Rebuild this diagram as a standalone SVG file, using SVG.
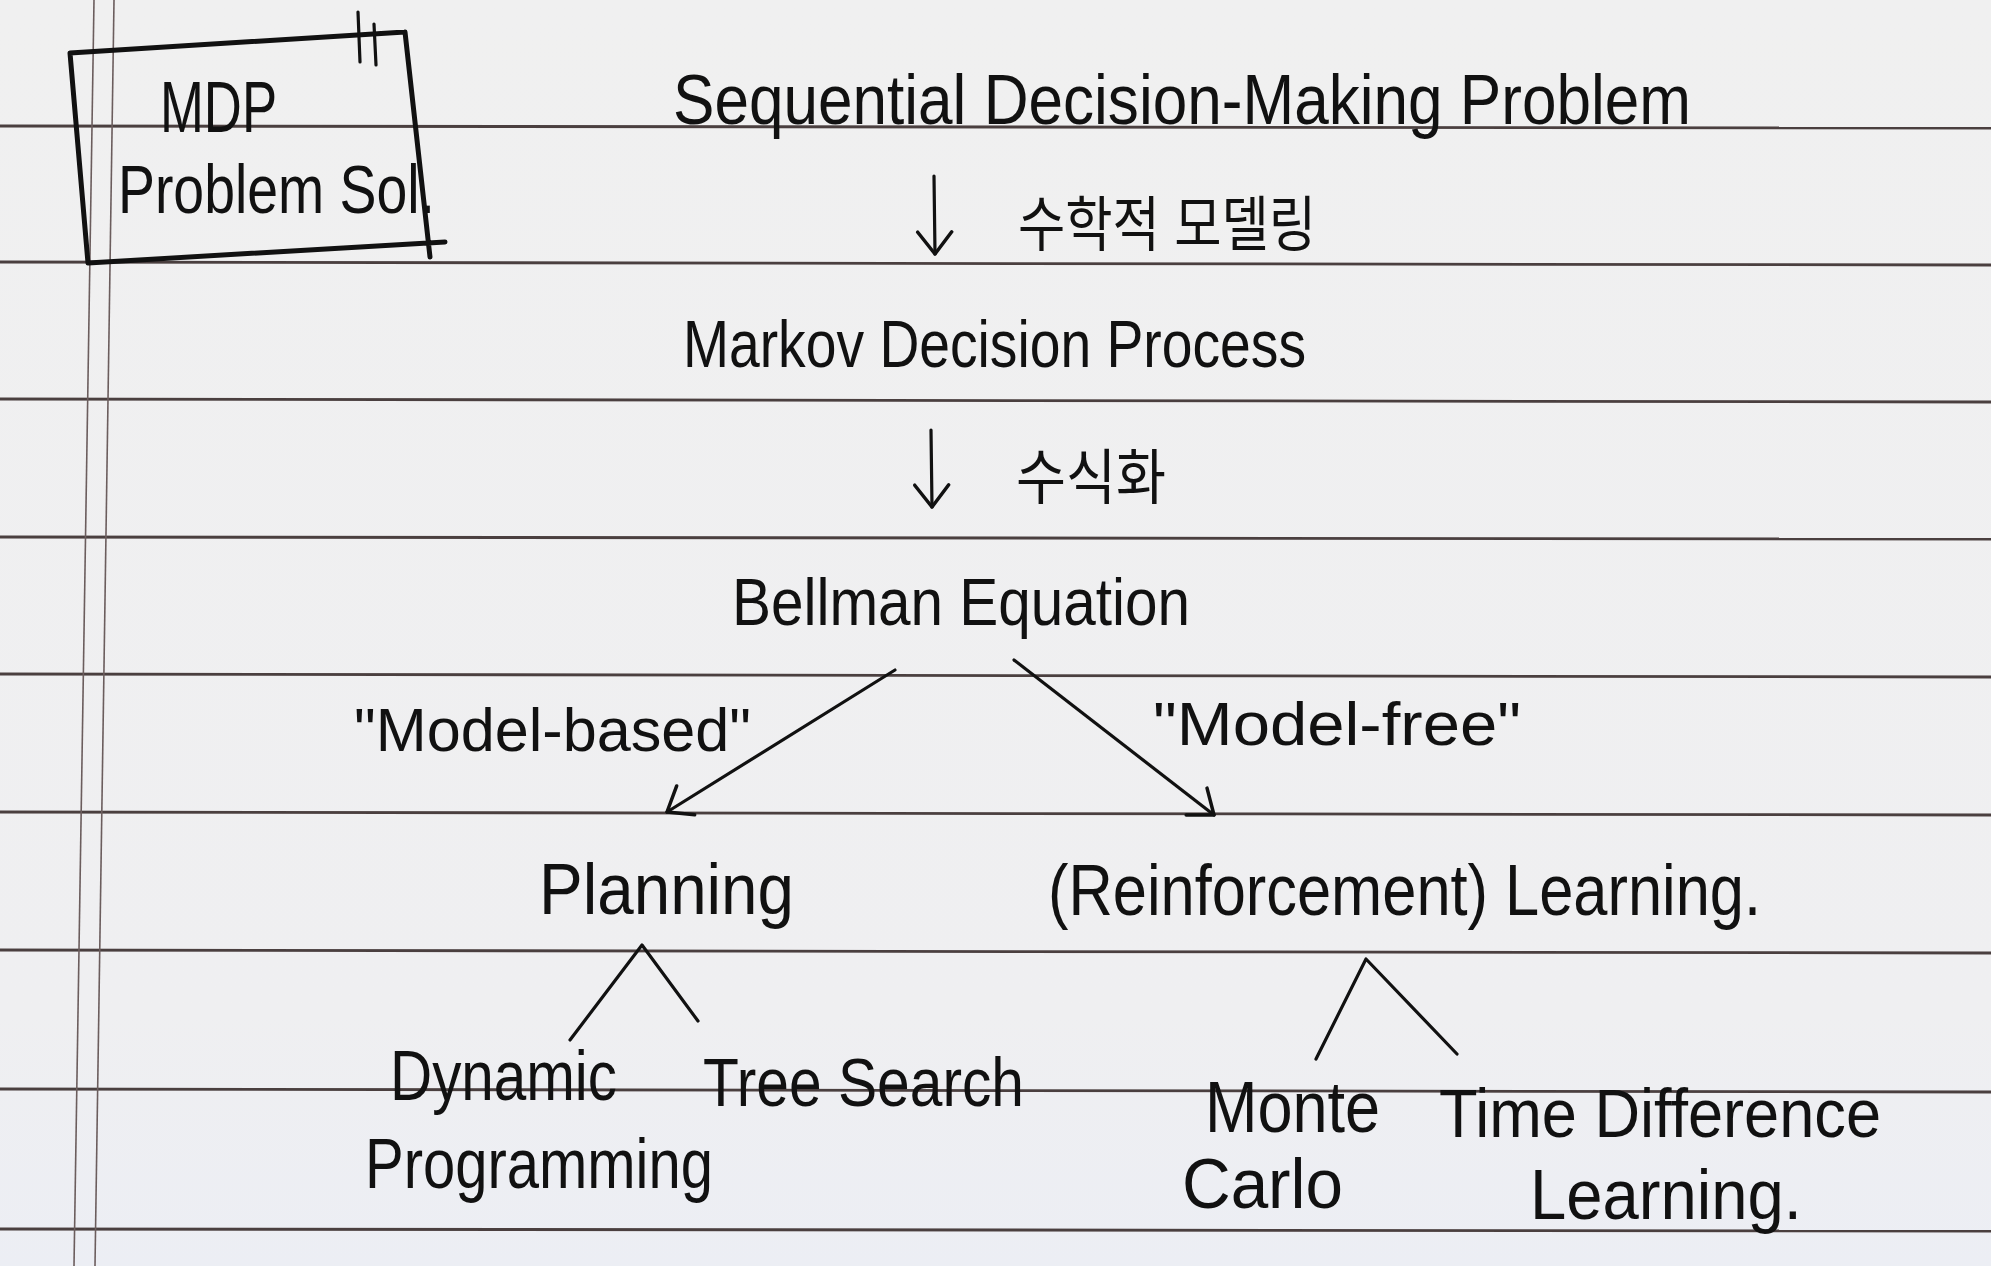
<svg xmlns="http://www.w3.org/2000/svg" width="1991" height="1266" viewBox="0 0 1991 1266">
  <defs>
    <linearGradient id="paper" x1="0" y1="0" x2="0" y2="1">
      <stop offset="0" stop-color="#f0f0f0"/>
      <stop offset="0.8" stop-color="#efeff1"/>
      <stop offset="1" stop-color="#eceef4"/>
    </linearGradient>
    <marker id="ah" viewBox="-30 -30 40 60" refX="0" refY="0" markerWidth="40" markerHeight="60" markerUnits="userSpaceOnUse" orient="auto">
      <path d="M-22,-17 L0,0 L-22,17" fill="none" stroke="#111" stroke-width="3.5" stroke-linecap="round" stroke-linejoin="round"/>
    </marker>
    <style>
      .rule { stroke: #4a3f3f; stroke-width: 2.8; fill: none; }
      .margin { stroke: #6b5d5d; stroke-width: 1.6; fill: none; }
      .ink { stroke: #111; stroke-width: 3.2; fill: none; stroke-linecap: round; stroke-linejoin: round; }
      .box { stroke: #111; stroke-width: 5; fill: none; stroke-linecap: round; stroke-linejoin: round; }
      .hw { font-family: "Liberation Sans", Arial, sans-serif; fill: #111; }
      .kr { font-family: "Liberation Sans", "Noto Sans CJK KR", sans-serif; fill: #111; }
    </style>
  </defs>

  <!-- paper -->
  <rect x="0" y="0" width="1991" height="1266" fill="url(#paper)"/>
  <g id="paper-lines">
    <line class="rule" x1="0" y1="126" x2="1991" y2="128"/>
    <line class="rule" x1="0" y1="262" x2="1991" y2="265"/>
    <line class="rule" x1="0" y1="399" x2="1991" y2="402"/>
    <line class="rule" x1="0" y1="537" x2="1991" y2="539"/>
    <line class="rule" x1="0" y1="674" x2="1991" y2="677"/>
    <line class="rule" x1="0" y1="812" x2="1991" y2="815"/>
    <line class="rule" x1="0" y1="950" x2="1991" y2="953"/>
    <line class="rule" x1="0" y1="1089" x2="1991" y2="1092"/>
    <line class="rule" x1="0" y1="1229" x2="1991" y2="1231"/>
    <line class="margin" x1="94" y1="0" x2="74" y2="1266"/>
    <line class="margin" x1="114" y1="0" x2="95" y2="1266"/>
  </g>

  <!-- title box -->
  <g id="title-box">
    <path class="box" d="M70,53 L405,32 M70,53 L88,263 L445,242 M405,32 L430,257"/>
    <path class="ink" d="M358,12 L360,62 M374,24 L376,65"/>
    <text class="hw" x="160" y="132" font-size="72" textLength="117" lengthAdjust="spacingAndGlyphs">MDP</text>
    <text class="hw" x="118" y="213" font-size="68" textLength="317" lengthAdjust="spacingAndGlyphs">Problem Sol.</text>
  </g>

  <g id="node-sdmp">
    <text class="hw" x="673" y="124" font-size="70" textLength="1018" lengthAdjust="spacingAndGlyphs">Sequential Decision-Making Problem</text>
  </g>
  <g id="node-mdp">
    <text class="hw" x="683" y="367" font-size="66" textLength="623" lengthAdjust="spacingAndGlyphs">Markov Decision Process</text>
  </g>
  <g id="node-bellman">
    <text class="hw" x="732" y="625" font-size="66" textLength="458" lengthAdjust="spacingAndGlyphs">Bellman Equation</text>
  </g>
  <g id="node-planning">
    <text class="hw" x="539" y="914" font-size="72" textLength="255" lengthAdjust="spacingAndGlyphs">Planning</text>
  </g>
  <g id="node-learning">
    <text class="hw" x="1048" y="915" font-size="72" textLength="713" lengthAdjust="spacingAndGlyphs">(Reinforcement) Learning.</text>
  </g>
  <g id="node-dp">
    <text class="hw" x="390" y="1100" font-size="70" textLength="227" lengthAdjust="spacingAndGlyphs">Dynamic</text>
    <text class="hw" x="365" y="1188" font-size="70" textLength="348" lengthAdjust="spacingAndGlyphs">Programming</text>
  </g>
  <g id="node-tree-search">
    <text class="hw" x="703" y="1106" font-size="68" textLength="321" lengthAdjust="spacingAndGlyphs">Tree Search</text>
  </g>
  <g id="node-mc">
    <text class="hw" x="1205" y="1132" font-size="72" textLength="175" lengthAdjust="spacingAndGlyphs">Monte</text>
    <text class="hw" x="1182" y="1208" font-size="70" textLength="161" lengthAdjust="spacingAndGlyphs">Carlo</text>
  </g>
  <g id="node-td">
    <text class="hw" x="1439" y="1137" font-size="68" textLength="442" lengthAdjust="spacingAndGlyphs">Time Difference</text>
    <text class="hw" x="1530" y="1219" font-size="70" textLength="272" lengthAdjust="spacingAndGlyphs">Learning.</text>
  </g>

  <g id="connectors">
    <line class="ink" x1="934" y1="176" x2="935" y2="254" marker-end="url(#ah)"/>
    <line class="ink" x1="931" y1="430" x2="932" y2="507" marker-end="url(#ah)"/>
    <line class="ink" x1="895" y1="670" x2="667" y2="812" marker-end="url(#ah)"/>
    <line class="ink" x1="1014" y1="660" x2="1214" y2="815" marker-end="url(#ah)"/>
    <polyline class="ink" points="570,1040 642,945 698,1021"/>
    <polyline class="ink" points="1316,1059 1366,959 1457,1054"/>
    <text class="kr" x="1018" y="246" font-size="60" textLength="298" lengthAdjust="spacingAndGlyphs">수학적 모델링</text>
    <text class="kr" x="1016" y="499" font-size="60" textLength="150" lengthAdjust="spacingAndGlyphs">수식화</text>
    <text class="hw" x="354" y="751" font-size="62" textLength="397" lengthAdjust="spacingAndGlyphs">"Model-based"</text>
    <text class="hw" x="1153" y="745" font-size="62" textLength="368" lengthAdjust="spacingAndGlyphs">"Model-free"</text>
  </g>
</svg>
